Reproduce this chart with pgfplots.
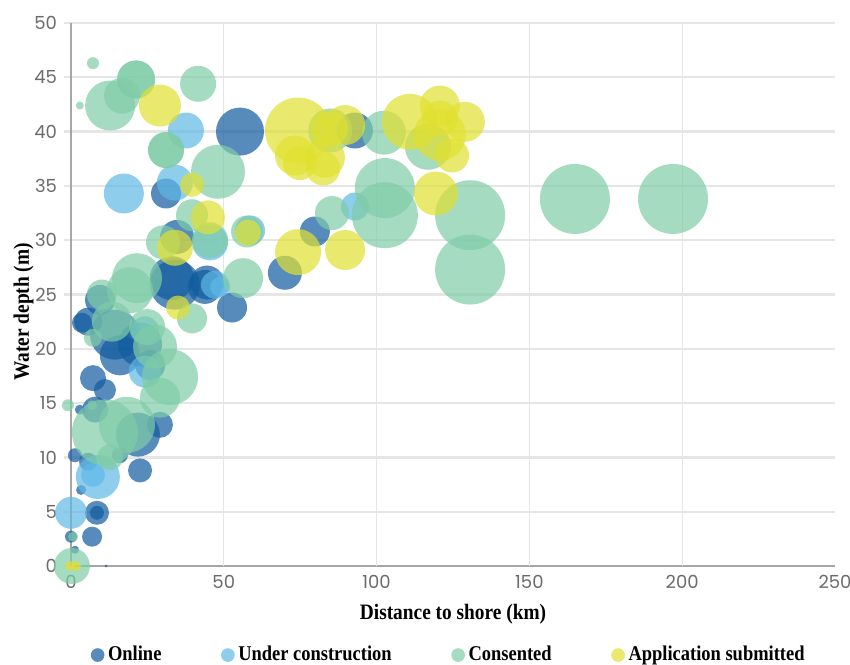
\documentclass[border=0pt]{standalone}
\usepackage{fontspec}
\setmainfont{Liberation Serif}
\newfontfamily\tickfont{Poppins}
\newfontfamily\labfont[FakeStretch=0.88]{Liberation Serif}
\usepackage{pgfplots}
\pgfplotsset{compat=1.18}
\definecolor{oncol}{HTML}{0F5A9E}
\definecolor{uccol}{HTML}{5FB8E6}
\definecolor{cocol}{HTML}{7FCCA7}
\definecolor{apcol}{HTML}{E0E030}
\definecolor{gridc}{HTML}{E6E6E6}
\pgfplotsset{bub/.style={scatter, only marks, mark=*, forget plot,
  mark options={draw=none, fill=#1, fill opacity=0.7},
  scatter/use mapped color={draw=none, draw opacity=0, fill=#1, fill opacity=0.7},
  visualization depends on={\thisrow{r}\as\rr},
  scatter/@pre marker code/.append style={/tikz/mark size=\rr pt}},
  legbub/.style={only marks, mark=*, mark size=3.2pt, color=#1!70!white, mark options={draw=#1!70!white, fill=#1!70!white}}}
\begin{document}
\begin{tikzpicture}
\begin{axis}[
  scale only axis, width=382pt, height=271.5pt,
  xmin=0, xmax=250, ymin=0, ymax=50,
  clip=false,
  axis x line*=bottom, axis y line*=left,
  axis line style={draw=gray!70, line width=0.6pt},
  xtick={0,50,...,250}, ytick={0,5,...,50},
  extra x ticks={50,100,150,200}, extra x tick labels={},
  extra x tick style={xmajorgrids=true, major tick length=0pt},
  x grid style={draw=gridc, line width=0.5pt},
  ymajorgrids=true,
  y grid style={draw=gridc, line width=1.1pt},
  xtick style={draw=none},
  ytick style={draw=gridc, line width=1.1pt},
  tick align=outside, major tick length=3.5pt,
  /pgf/number format/assume math mode=true,
  ticklabel style={font=\tickfont\fontsize{9}{10}\selectfont, text=black!58},
  xticklabel style={yshift=2.5pt},
  xlabel={\labfont\bfseries Distance to shore (km)},
  ylabel={\labfont\bfseries Water depth (m)},
  label style={font=\fontsize{11}{13}\selectfont},
  x label style={at={(axis description cs:0.5,-0.088)}, anchor=center},
  y label style={at={(axis description cs:-0.062,0.468)}, anchor=center},
  legend style={at={(axis description cs:0.496,-0.164)}, anchor=center, draw=none,
    legend columns=4, font=\labfont\bfseries\fontsize{10.5}{12}\selectfont,
    /tikz/every even column/.append style={column sep=28pt}},
  legend cell align=left,
]
\addlegendimage{legbub=oncol}
\addlegendentry{Online}
\addlegendimage{legbub=uccol}
\addlegendentry{Under construction}
\addlegendimage{legbub=cocol}
\addlegendentry{Consented}
\addlegendimage{legbub=apcol}
\addlegendentry{Application submitted}

% Online
\addplot[bub=oncol] table[x=x,y=y]{
x y r
55.3 40.0 12
31.1 34.3 7.5
92.9 40.1 9
79.8 30.8 7.5
70.0 27.0 8.5
52.7 23.8 7.5
43.8 25.7 8.5
34.0 25.9 12.5
33.0 26.5 11
44.5 26.1 8.5
34.7 30.3 8.5
9.5 24.5 7.5
5.6 22.5 7
3.6 22.4 5
14.4 21.3 12.5
22.6 20.4 11
16.0 19.4 10
25.9 18.5 7.5
7.2 17.3 6.5
11.1 16.2 5.5
7.9 14.4 6.5
2.9 14.4 2.5
29.1 13.0 6.5
21.9 12.1 11
22.6 8.8 6
1.3 10.2 3.5
5.6 9.6 4.5
16.0 10.2 4
3.3 7.0 2.5
8.5 4.9 6
8.5 4.9 3.5
6.9 2.7 5
0.0 2.7 3
1.3 1.5 2
11.5 0.0 0.75
};
% Under construction
\addplot[bub=uccol] table[x=x,y=y]{
x y r
17.3 34.3 10
37.6 40.1 9
34.0 35.3 9
45.5 29.8 9
47.1 25.9 7
48.8 25.7 5
24.2 17.9 8
24.2 21.7 7
8.8 8.2 11
7.2 8.4 6
0.0 4.9 8
92.9 33.1 7
58.6 30.9 7.5
};
% Consented
\addplot[bub=cocol] table[x=x,y=y]{
x y r
164.9 33.8 17.5
197.0 33.8 17.5
130.6 32.3 17.5
130.6 27.3 17.5
102.7 34.8 15
102.7 32.3 16.5
85.4 32.5 8.5
102.4 39.9 11
116.8 38.6 11.5
84.8 40.1 11
7.2 46.3 3
2.9 42.4 2
12.8 42.4 12.5
16.7 43.3 9
21.3 44.8 9.5
21.3 44.8 9.5
41.6 44.4 9
31.1 38.3 9
31.1 38.3 9
48.1 36.3 13.5
39.6 32.3 8
45.5 30.0 9
30.1 29.8 8.5
57.6 30.8 8
21.6 26.5 12.5
56.3 26.5 10
19.3 25.4 11.5
10.1 25.0 7.5
13.4 22.5 10
24.9 22.0 9
27.5 20.2 11
32.4 17.4 14
29.1 15.5 10
39.6 22.8 7.5
7.2 21.0 4.5
-1.0 14.8 3
6.9 14.8 2.5
11.1 12.3 16.5
18.3 13.0 14
12.8 10.0 6.5
0.3 0.0 9
0.7 2.7 2.5
};
% Application submitted
\addplot[bub=apcol] table[x=x,y=y]{
x y r
29.1 42.4 10.5
39.6 35.1 6
44.8 32.1 8.5
34.0 29.3 9
57.9 30.7 6.5
74.3 28.9 11.5
89.7 29.1 10
74.3 40.1 16.5
73.3 37.8 10
74.9 37.1 8.5
83.1 37.6 10
82.5 36.6 8.5
89.7 40.6 10
84.8 40.3 9
110.9 40.9 14
120.7 42.4 10
120.7 39.7 13
120.7 41.2 9
128.9 40.9 10
124.7 37.8 8.5
119.4 34.3 11
35.0 23.8 6
-0.3 0.0 2.5
1.6 0.0 2.5
};
\end{axis}
\pgfresetboundingbox
\path[use as bounding box] (-35.5pt,-49pt) rectangle (389.5pt,283pt);
\end{tikzpicture}
\end{document}
